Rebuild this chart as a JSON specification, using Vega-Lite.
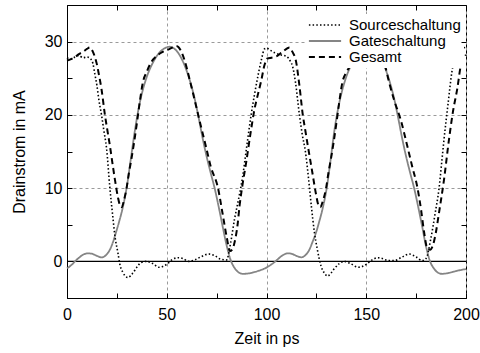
{
  "$schema": "https://vega.github.io/schema/vega-lite/v6.json",
  "width": 399,
  "height": 293,
  "autosize": {"type": "none"},
  "padding": {"left": 67, "top": 5, "right": 14, "bottom": 55},
  "background": "white",
  "config": {
    "font": "Liberation Sans",
    "view": {"stroke": "black", "strokeWidth": 1},
    "axis": {"domainColor": "black", "tickColor": "black", "labelColor": "black", "titleColor": "black", "titleFontWeight": "normal", "gridColor": "#9a9a9a", "gridDash": [3, 3], "gridWidth": 1, "tickOpacity": 1, "tickWidth": 1}
  },
  "layer": [
    {
      "data": {"values": [{"t": 0, "I": 0}, {"t": 200, "I": 0}]},
      "mark": {"type": "line", "color": "black", "strokeWidth": 1.2},
      "encoding": {
        "x": {"field": "t", "type": "quantitative", "scale": {"domain": [0, 200], "nice": false},
          "axis": {"orient": "top", "offset": -5, "values": [0,25,50,75,100,125,150,175,200], "labels": false, "grid": false, "domain": false, "ticks": true, "tickSize": 5, "title": null, "zindex": 2}},
        "y": {"field": "I", "type": "quantitative", "scale": {"domain": [-5, 35], "nice": false},
          "axis": {"orient": "right", "offset": -5, "values": [-5,0,5,10,15,20,25,30,35], "labels": false, "grid": false, "domain": false, "ticks": true, "tickSize": 5, "title": null, "zindex": 2}}
      }
    },
    {
      "data": {"values": [{"t": 0, "I": 0}, {"t": 200, "I": 0}]},
      "mark": {"type": "line", "color": "black", "strokeOpacity": 0},
      "encoding": {
        "x": {"field": "t", "type": "quantitative", "scale": {"domain": [0, 200], "nice": false},
          "axis": {"orient": "bottom", "offset": -5, "values": [0,25,50,75,100,125,150,175,200], "labels": false, "grid": false, "domain": false, "ticks": true, "tickSize": 5, "title": null, "zindex": 2}},
        "y": {"field": "I", "type": "quantitative", "scale": {"domain": [-5, 35], "nice": false},
          "axis": {"orient": "left", "offset": -5, "values": [-5,0,5,10,15,20,25,30,35], "labels": false, "grid": false, "domain": false, "ticks": true, "tickSize": 5, "title": null, "zindex": 2}}
      }
    },
    {
      "data": {"values": [
        {"s":"Gateschaltung","t":0,"I":-0.95},{"s":"Gateschaltung","t":2,"I":-0.55},{"s":"Gateschaltung","t":4,"I":0.0},{"s":"Gateschaltung","t":6,"I":0.5},{"s":"Gateschaltung","t":8,"I":0.9},{"s":"Gateschaltung","t":10.5,"I":1.1},{"s":"Gateschaltung","t":13,"I":1.0},{"s":"Gateschaltung","t":15,"I":0.75},{"s":"Gateschaltung","t":17.5,"I":0.55},{"s":"Gateschaltung","t":19.5,"I":0.85},{"s":"Gateschaltung","t":21.5,"I":1.6},{"s":"Gateschaltung","t":23,"I":2.6},{"s":"Gateschaltung","t":24.5,"I":3.9},{"s":"Gateschaltung","t":26,"I":5.3},{"s":"Gateschaltung","t":28,"I":7.4},{"s":"Gateschaltung","t":30,"I":10.2},{"s":"Gateschaltung","t":32,"I":14.0},{"s":"Gateschaltung","t":34,"I":17.8},{"s":"Gateschaltung","t":36,"I":21.0},{"s":"Gateschaltung","t":38,"I":23.4},{"s":"Gateschaltung","t":40,"I":25.2},{"s":"Gateschaltung","t":43,"I":27.1},{"s":"Gateschaltung","t":46,"I":28.4},{"s":"Gateschaltung","t":49,"I":29.1},{"s":"Gateschaltung","t":51.5,"I":29.3},{"s":"Gateschaltung","t":54,"I":29.0},{"s":"Gateschaltung","t":57,"I":27.9},{"s":"Gateschaltung","t":60,"I":26.0},{"s":"Gateschaltung","t":62,"I":24.3},{"s":"Gateschaltung","t":64,"I":22.2},{"s":"Gateschaltung","t":66,"I":19.6},{"s":"Gateschaltung","t":68,"I":16.8},{"s":"Gateschaltung","t":70,"I":14.3},{"s":"Gateschaltung","t":72,"I":12.1},{"s":"Gateschaltung","t":74,"I":10.0},{"s":"Gateschaltung","t":76,"I":7.5},{"s":"Gateschaltung","t":78,"I":4.8},{"s":"Gateschaltung","t":80,"I":2.2},{"s":"Gateschaltung","t":82,"I":0.2},{"s":"Gateschaltung","t":84,"I":-0.9},{"s":"Gateschaltung","t":86,"I":-1.5},{"s":"Gateschaltung","t":88,"I":-1.7},{"s":"Gateschaltung","t":91,"I":-1.65},{"s":"Gateschaltung","t":94,"I":-1.45},{"s":"Gateschaltung","t":97,"I":-1.2},{"s":"Gateschaltung","t":100,"I":-0.85},
        {"s":"Gateschaltung","t":102,"I":-0.5},{"s":"Gateschaltung","t":104.5,"I":0.0},{"s":"Gateschaltung","t":106.5,"I":0.5},{"s":"Gateschaltung","t":108.5,"I":0.9},{"s":"Gateschaltung","t":110.7,"I":1.1},{"s":"Gateschaltung","t":113,"I":1.0},{"s":"Gateschaltung","t":115,"I":0.75},{"s":"Gateschaltung","t":117.5,"I":0.55},{"s":"Gateschaltung","t":119.5,"I":0.85},{"s":"Gateschaltung","t":121.5,"I":1.6},{"s":"Gateschaltung","t":123,"I":2.6},{"s":"Gateschaltung","t":124.8,"I":3.9},{"s":"Gateschaltung","t":126.3,"I":5.3},{"s":"Gateschaltung","t":128.3,"I":7.4},{"s":"Gateschaltung","t":130.3,"I":10.2},{"s":"Gateschaltung","t":132.2,"I":14.0},{"s":"Gateschaltung","t":134,"I":17.8},{"s":"Gateschaltung","t":136,"I":21.0},{"s":"Gateschaltung","t":138,"I":23.4},{"s":"Gateschaltung","t":140,"I":25.2},{"s":"Gateschaltung","t":143,"I":27.1},{"s":"Gateschaltung","t":146,"I":28.4},{"s":"Gateschaltung","t":149,"I":29.1},{"s":"Gateschaltung","t":151.5,"I":29.3},{"s":"Gateschaltung","t":154,"I":29.0},{"s":"Gateschaltung","t":157,"I":27.9},{"s":"Gateschaltung","t":160,"I":26.0},{"s":"Gateschaltung","t":162,"I":24.3},{"s":"Gateschaltung","t":164,"I":22.2},{"s":"Gateschaltung","t":166,"I":19.6},{"s":"Gateschaltung","t":168,"I":16.8},{"s":"Gateschaltung","t":170,"I":14.3},{"s":"Gateschaltung","t":172,"I":12.1},{"s":"Gateschaltung","t":174,"I":10.0},{"s":"Gateschaltung","t":176,"I":7.5},{"s":"Gateschaltung","t":178,"I":4.8},{"s":"Gateschaltung","t":180,"I":2.0},{"s":"Gateschaltung","t":182,"I":0.0},{"s":"Gateschaltung","t":184,"I":-1.0},{"s":"Gateschaltung","t":186,"I":-1.55},{"s":"Gateschaltung","t":188,"I":-1.7},{"s":"Gateschaltung","t":191,"I":-1.6},{"s":"Gateschaltung","t":194,"I":-1.4},{"s":"Gateschaltung","t":197,"I":-1.2},{"s":"Gateschaltung","t":200,"I":-1.05},

        {"s":"Sourceschaltung","t":0,"I":27.8},{"s":"Sourceschaltung","t":2,"I":27.6},{"s":"Sourceschaltung","t":4,"I":27.9},{"s":"Sourceschaltung","t":6,"I":28.1},{"s":"Sourceschaltung","t":8,"I":27.8},{"s":"Sourceschaltung","t":10,"I":27.9},{"s":"Sourceschaltung","t":12,"I":27.6},{"s":"Sourceschaltung","t":13,"I":27.0},{"s":"Sourceschaltung","t":14,"I":25.5},{"s":"Sourceschaltung","t":15,"I":24.0},{"s":"Sourceschaltung","t":16,"I":22.0},{"s":"Sourceschaltung","t":17.3,"I":20.0},{"s":"Sourceschaltung","t":18.5,"I":17.8},{"s":"Sourceschaltung","t":19.8,"I":15.5},{"s":"Sourceschaltung","t":21.5,"I":10.0},{"s":"Sourceschaltung","t":23,"I":6.0},{"s":"Sourceschaltung","t":24,"I":3.5},{"s":"Sourceschaltung","t":25.5,"I":1.2},{"s":"Sourceschaltung","t":26.5,"I":-0.4},{"s":"Sourceschaltung","t":28,"I":-1.5},{"s":"Sourceschaltung","t":30.5,"I":-2.2},{"s":"Sourceschaltung","t":33,"I":-1.6},{"s":"Sourceschaltung","t":35,"I":-0.8},{"s":"Sourceschaltung","t":37,"I":-0.2},{"s":"Sourceschaltung","t":40,"I":0.0},{"s":"Sourceschaltung","t":43,"I":-0.3},{"s":"Sourceschaltung","t":46,"I":-0.8},{"s":"Sourceschaltung","t":48,"I":-0.7},{"s":"Sourceschaltung","t":50,"I":-0.4},{"s":"Sourceschaltung","t":53,"I":0.3},{"s":"Sourceschaltung","t":56,"I":0.5},{"s":"Sourceschaltung","t":58,"I":0.4},{"s":"Sourceschaltung","t":61,"I":0.0},{"s":"Sourceschaltung","t":64,"I":0.2},{"s":"Sourceschaltung","t":67,"I":0.6},{"s":"Sourceschaltung","t":71,"I":1.0},{"s":"Sourceschaltung","t":74,"I":0.8},{"s":"Sourceschaltung","t":77,"I":0.3},{"s":"Sourceschaltung","t":80,"I":0.2},{"s":"Sourceschaltung","t":82,"I":2.5},{"s":"Sourceschaltung","t":84,"I":5.8},{"s":"Sourceschaltung","t":86,"I":8.5},{"s":"Sourceschaltung","t":88,"I":11.5},{"s":"Sourceschaltung","t":90,"I":15.5},{"s":"Sourceschaltung","t":92.3,"I":20.0},{"s":"Sourceschaltung","t":94,"I":22.8},{"s":"Sourceschaltung","t":95.7,"I":25.3},{"s":"Sourceschaltung","t":97.5,"I":27.6},{"s":"Sourceschaltung","t":99,"I":29.0},{"s":"Sourceschaltung","t":100,"I":29.1},{"s":"Sourceschaltung","t":102,"I":28.8},{"s":"Sourceschaltung","t":104,"I":28.5},{"s":"Sourceschaltung","t":107,"I":28.2},{"s":"Sourceschaltung","t":110,"I":28.0},{"s":"Sourceschaltung","t":112,"I":27.3},{"s":"Sourceschaltung","t":113,"I":26.7},{"s":"Sourceschaltung","t":114.5,"I":24.5},{"s":"Sourceschaltung","t":116.5,"I":20.0},{"s":"Sourceschaltung","t":118,"I":17.2},{"s":"Sourceschaltung","t":119.5,"I":15.0},{"s":"Sourceschaltung","t":121,"I":11.5},{"s":"Sourceschaltung","t":122.5,"I":7.5},{"s":"Sourceschaltung","t":124,"I":4.0},{"s":"Sourceschaltung","t":125.5,"I":1.6},{"s":"Sourceschaltung","t":127.3,"I":-0.6},{"s":"Sourceschaltung","t":129,"I":-1.6},{"s":"Sourceschaltung","t":130.7,"I":-2.0},{"s":"Sourceschaltung","t":132,"I":-1.7},{"s":"Sourceschaltung","t":134,"I":-1.0},{"s":"Sourceschaltung","t":136.5,"I":-0.3},{"s":"Sourceschaltung","t":139,"I":0.0},{"s":"Sourceschaltung","t":142,"I":-0.3},{"s":"Sourceschaltung","t":146,"I":-0.8},{"s":"Sourceschaltung","t":148,"I":-0.7},{"s":"Sourceschaltung","t":150,"I":-0.4},{"s":"Sourceschaltung","t":153,"I":0.2},{"s":"Sourceschaltung","t":155.7,"I":0.5},{"s":"Sourceschaltung","t":158,"I":0.4},{"s":"Sourceschaltung","t":161,"I":0.1},{"s":"Sourceschaltung","t":164,"I":0.1},{"s":"Sourceschaltung","t":168,"I":0.6},{"s":"Sourceschaltung","t":171.5,"I":1.0},{"s":"Sourceschaltung","t":175,"I":0.6},{"s":"Sourceschaltung","t":178,"I":0.1},{"s":"Sourceschaltung","t":180,"I":0.4},{"s":"Sourceschaltung","t":182.3,"I":3.0},{"s":"Sourceschaltung","t":184.5,"I":6.5},{"s":"Sourceschaltung","t":186.5,"I":10.0},{"s":"Sourceschaltung","t":188,"I":14.0},{"s":"Sourceschaltung","t":189,"I":16.7},{"s":"Sourceschaltung","t":191,"I":21.5},{"s":"Sourceschaltung","t":193,"I":26.0},{"s":"Sourceschaltung","t":195,"I":28.3},{"s":"Sourceschaltung","t":196.5,"I":29.0},{"s":"Sourceschaltung","t":200,"I":29.2},

        {"s":"Gesamt","t":0,"I":27.4},{"s":"Gesamt","t":2,"I":27.6},{"s":"Gesamt","t":4,"I":27.9},{"s":"Gesamt","t":6,"I":28.3},{"s":"Gesamt","t":8,"I":28.6},{"s":"Gesamt","t":10,"I":29.0},{"s":"Gesamt","t":11.5,"I":29.2},{"s":"Gesamt","t":13,"I":28.6},{"s":"Gesamt","t":14.8,"I":27.1},{"s":"Gesamt","t":16,"I":25.5},{"s":"Gesamt","t":17.3,"I":23.5},{"s":"Gesamt","t":19,"I":20.0},{"s":"Gesamt","t":20.3,"I":17.8},{"s":"Gesamt","t":21.5,"I":15.8},{"s":"Gesamt","t":23,"I":13.0},{"s":"Gesamt","t":24,"I":11.2},{"s":"Gesamt","t":25.5,"I":8.8},{"s":"Gesamt","t":26.5,"I":7.7},{"s":"Gesamt","t":27.5,"I":7.4},{"s":"Gesamt","t":28.5,"I":8.3},{"s":"Gesamt","t":29.8,"I":9.9},{"s":"Gesamt","t":31,"I":12.0},{"s":"Gesamt","t":32.3,"I":14.0},{"s":"Gesamt","t":33.5,"I":16.0},{"s":"Gesamt","t":35,"I":18.8},{"s":"Gesamt","t":36.5,"I":21.8},{"s":"Gesamt","t":38,"I":24.4},{"s":"Gesamt","t":40,"I":25.9},{"s":"Gesamt","t":42,"I":27.1},{"s":"Gesamt","t":44.8,"I":28.0},{"s":"Gesamt","t":48,"I":28.6},{"s":"Gesamt","t":51.5,"I":29.0},{"s":"Gesamt","t":54.8,"I":29.4},{"s":"Gesamt","t":57,"I":28.8},{"s":"Gesamt","t":59,"I":27.4},{"s":"Gesamt","t":61.5,"I":24.8},{"s":"Gesamt","t":64,"I":22.0},{"s":"Gesamt","t":67,"I":18.6},{"s":"Gesamt","t":69.8,"I":15.5},{"s":"Gesamt","t":72,"I":13.0},{"s":"Gesamt","t":75.7,"I":10.0},{"s":"Gesamt","t":78,"I":6.5},{"s":"Gesamt","t":80,"I":3.4},{"s":"Gesamt","t":81.7,"I":1.4},{"s":"Gesamt","t":83,"I":1.7},{"s":"Gesamt","t":84,"I":2.6},{"s":"Gesamt","t":85.5,"I":5.0},{"s":"Gesamt","t":86.5,"I":7.6},{"s":"Gesamt","t":88,"I":10.5},{"s":"Gesamt","t":89.8,"I":13.5},{"s":"Gesamt","t":92,"I":17.5},{"s":"Gesamt","t":94,"I":20.8},{"s":"Gesamt","t":95.7,"I":22.8},{"s":"Gesamt","t":97.3,"I":24.6},{"s":"Gesamt","t":99,"I":26.8},{"s":"Gesamt","t":100.5,"I":27.7},{"s":"Gesamt","t":102.5,"I":27.8},{"s":"Gesamt","t":105,"I":28.0},{"s":"Gesamt","t":108,"I":28.6},{"s":"Gesamt","t":111.5,"I":29.2},{"s":"Gesamt","t":113,"I":28.6},{"s":"Gesamt","t":114.8,"I":27.3},{"s":"Gesamt","t":116.5,"I":24.0},{"s":"Gesamt","t":118.2,"I":20.0},{"s":"Gesamt","t":119.5,"I":17.8},{"s":"Gesamt","t":120.7,"I":15.8},{"s":"Gesamt","t":123,"I":12.1},{"s":"Gesamt","t":124.8,"I":9.2},{"s":"Gesamt","t":126,"I":7.7},{"s":"Gesamt","t":127,"I":7.4},{"s":"Gesamt","t":128.2,"I":8.2},{"s":"Gesamt","t":129.8,"I":9.9},{"s":"Gesamt","t":131,"I":12.0},{"s":"Gesamt","t":132.3,"I":14.0},{"s":"Gesamt","t":133.5,"I":16.0},{"s":"Gesamt","t":135,"I":18.8},{"s":"Gesamt","t":136.5,"I":21.8},{"s":"Gesamt","t":138,"I":24.4},{"s":"Gesamt","t":140,"I":25.8},{"s":"Gesamt","t":143,"I":27.0},{"s":"Gesamt","t":146,"I":28.0},{"s":"Gesamt","t":149,"I":28.6},{"s":"Gesamt","t":152,"I":29.0},{"s":"Gesamt","t":154.8,"I":29.4},{"s":"Gesamt","t":157,"I":28.8},{"s":"Gesamt","t":159,"I":27.2},{"s":"Gesamt","t":161.5,"I":24.4},{"s":"Gesamt","t":164,"I":22.0},{"s":"Gesamt","t":167.3,"I":19.3},{"s":"Gesamt","t":170.7,"I":15.6},{"s":"Gesamt","t":173,"I":13.0},{"s":"Gesamt","t":175.7,"I":10.0},{"s":"Gesamt","t":177.5,"I":7.0},{"s":"Gesamt","t":179,"I":4.0},{"s":"Gesamt","t":180.7,"I":1.7},{"s":"Gesamt","t":182,"I":1.6},{"s":"Gesamt","t":183.3,"I":2.1},{"s":"Gesamt","t":184.8,"I":3.8},{"s":"Gesamt","t":186.5,"I":6.7},{"s":"Gesamt","t":189,"I":11.2},{"s":"Gesamt","t":191.5,"I":16.7},{"s":"Gesamt","t":193.5,"I":20.5},{"s":"Gesamt","t":195.7,"I":23.7},{"s":"Gesamt","t":197.3,"I":26.6},{"s":"Gesamt","t":199,"I":27.8},{"s":"Gesamt","t":200,"I":28.2}
      ]},
      "mark": {"type": "line", "interpolate": "monotone", "strokeCap": "butt"},
      "encoding": {
        "x": {"field": "t", "type": "quantitative", "scale": {"domain": [0, 200], "nice": false},
          "axis": {"orient": "bottom", "values": [0,50,100,150,200],
            "grid": true, "ticks": false, "domain": true,
            "labelPadding": 8, "labelFontSize": 16, "labelFlush": false, "zindex": 0,
            "title": "Zeit in ps", "titleFontSize": 16, "titlePadding": 8}},
        "y": {"field": "I", "type": "quantitative", "scale": {"domain": [-5, 35], "nice": false},
          "axis": {"orient": "left", "values": [0,10,20,30],
            "grid": true, "ticks": false, "domain": true,
            "labelPadding": 5, "labelFontSize": 16, "zindex": 0,
            "title": "Drainstrom in mA", "titleFontSize": 16, "titlePadding": 17}},
        "color": {"field": "s", "type": "nominal",
          "scale": {"domain": ["Sourceschaltung", "Gateschaltung", "Gesamt"], "range": ["#000000", "#858585", "#000000"]},
          "legend": {"orient": "none", "legendX": 239, "legendY": 9, "padding": 3, "title": null, "fillColor": "white", "zindex": 1,
            "symbolType": "M-2.3,0H2.3", "symbolSize": 196, "symbolOffset": 8, "symbolStrokeWidth": 1.6,
            "labelFontSize": 15, "labelOffset": 16, "rowPadding": -0.5, "labelColor": "black"}},
        "strokeDash": {"field": "s", "type": "nominal",
          "scale": {"domain": ["Sourceschaltung", "Gateschaltung", "Gesamt"], "range": [[1.5, 2.2], [1, 0], [6, 4]]}},
        "strokeWidth": {"field": "s", "type": "nominal",
          "scale": {"domain": ["Sourceschaltung", "Gateschaltung", "Gesamt"], "range": [1.6, 2.0, 1.4]}, "legend": null}
      }
    }
  ],
  "resolve": {"axis": {"x": "independent", "y": "independent"}}
}
